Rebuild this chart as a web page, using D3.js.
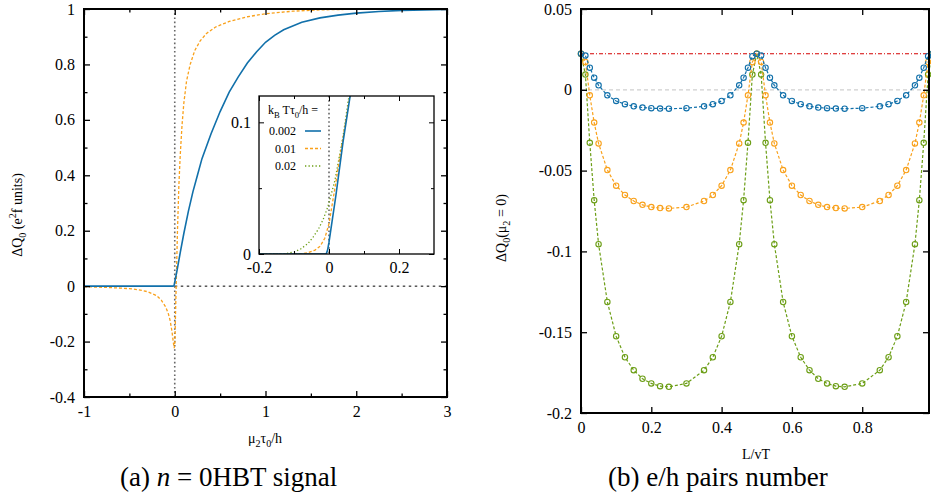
<!DOCTYPE html>
<html><head><meta charset="utf-8">
<script src="https://cdn.jsdelivr.net/npm/d3@7"></script>
<style>body{margin:0;background:#fff}svg{display:block}</style>
</head><body><svg id="c" width="931" height="502"></svg>
<script>
// ---------------- DATA ----------------
// (a) main panel: [mu2*tau0/h, DeltaQ0]
const mainBlue = [[-1,0],[-0.5,0],[-0.02,0],[-0.008,0.002],[0,0.014],[0.03,0.065],[0.06,0.12],[0.1,0.19],[0.15,0.27],[0.2,0.34],[0.25,0.4],[0.3,0.46],[0.4,0.55],[0.5,0.63],[0.6,0.7],[0.7,0.755],[0.8,0.805],[0.9,0.845],[1.0,0.88],[1.1,0.905],[1.2,0.925],[1.4,0.952],[1.6,0.968],[1.8,0.978],[2.0,0.985],[2.25,0.991],[2.5,0.995],[2.75,0.997],[3,0.998]];
const mainOrange = [[-1,-0.002],[-0.8,-0.004],[-0.6,-0.007],[-0.5,-0.009],[-0.4,-0.013],[-0.3,-0.02],[-0.2,-0.034],[-0.15,-0.05],[-0.1,-0.075],[-0.07,-0.1],[-0.05,-0.125],[-0.03,-0.165],[-0.015,-0.205],[-0.006,-0.224],[0.002,-0.2],[0.01,-0.08],[0.02,0.06],[0.03,0.2],[0.045,0.36],[0.06,0.47],[0.08,0.58],[0.1,0.66],[0.13,0.74],[0.17,0.8],[0.22,0.85],[0.28,0.885],[0.35,0.912],[0.45,0.935],[0.6,0.955],[0.8,0.972],[1.0,0.983],[1.3,0.992],[1.6,0.997],[2.0,0.999],[3,1]];
// (a) inset
const insetBlue = [[-0.2,0],[-0.008,0],[-0.004,0.003],[0,0.009],[0.02,0.045],[0.04,0.085],[0.065,0.128]];
const insetOrange = [[-0.2,0],[-0.08,0],[-0.06,0.001],[-0.04,0.003],[-0.025,0.006],[-0.012,0.012],[0,0.023],[0.01,0.039],[0.02,0.055],[0.03,0.072],[0.04,0.088],[0.05,0.104],[0.065,0.128]];
const insetGreen = [[-0.2,0],[-0.14,0],[-0.12,0.0005],[-0.1,0.0015],[-0.08,0.004],[-0.06,0.008],[-0.045,0.013],[-0.03,0.019],[-0.017,0.026],[-0.003,0.036],[0.017,0.056],[0.04,0.089],[0.057,0.12],[0.062,0.127]];
const legendLabels = ["0.002","0.01","0.02"];

// (b) e/h pairs number
const pairX = [0,0.0125,0.025,0.0375,0.05,0.075,0.1,0.125,0.15,0.175,0.2,0.225,0.25,0.3,0.35,0.375,0.4,0.425,0.45,0.4625,0.475,0.4875,
               0.5,0.5125,0.525,0.5375,0.55,0.575,0.6,0.625,0.65,0.675,0.7,0.725,0.75,0.8,0.85,0.875,0.9,0.925,0.95,0.9625,0.975,0.9875,1.0];
const pairBlue = [0.0223,0.0212,0.0137,0.0075,0.0028,-0.0034,-0.0069,-0.0089,-0.0102,-0.0110,-0.0114,-0.0116,-0.0117,-0.0114,-0.0102,-0.0089,-0.0069,-0.0034,0.0028,0.0075,0.0137,0.0208,
                  0.0223,0.0212,0.0137,0.0075,0.0028,-0.0034,-0.0069,-0.0089,-0.0102,-0.0110,-0.0114,-0.0116,-0.0117,-0.0114,-0.0102,-0.0089,-0.0069,-0.0034,0.0028,0.0075,0.0137,0.0208,0.0223];
const pairOrange = [0.0223,0.0172,-0.0034,-0.0203,-0.0332,-0.0497,-0.0593,-0.0651,-0.0688,-0.0712,-0.0726,-0.0732,-0.0734,-0.0726,-0.0688,-0.0651,-0.0593,-0.0497,-0.0332,-0.0203,-0.0034,0.0172,
                    0.0223,0.0172,-0.0034,-0.0203,-0.0332,-0.0497,-0.0593,-0.0651,-0.0688,-0.0712,-0.0726,-0.0732,-0.0734,-0.0726,-0.0688,-0.0651,-0.0593,-0.0497,-0.0332,-0.0203,-0.0034,0.0172,0.0223];
const pairGreen = [0.0223,0.0094,-0.0328,-0.0683,-0.0955,-0.1313,-0.1525,-0.1655,-0.1735,-0.1788,-0.1817,-0.1834,-0.1838,-0.1817,-0.1735,-0.1655,-0.1525,-0.1313,-0.0955,-0.0683,-0.0328,0.0094,
                   0.0223,0.0094,-0.0328,-0.0683,-0.0955,-0.1313,-0.1525,-0.1655,-0.1735,-0.1788,-0.1817,-0.1834,-0.1838,-0.1817,-0.1735,-0.1655,-0.1525,-0.1313,-0.0955,-0.0683,-0.0328,0.0094,0.0223];
const refLevel = 0.0223;

// ticks
const aXMajor=[-1,0,1,2,3], aXMinor=[-0.5,0.5,1.5,2.5];
const aYMajor=[-0.4,-0.2,0,0.2,0.4,0.6,0.8,1], aYMinor=[-0.3,-0.1,0.1,0.3,0.5,0.7,0.9];
const iXMajor=[-0.2,0,0.2], iXMinor=[-0.1,0.1];
const iYMajor=[0,0.1], iYMinor=[0.05];
const bXMajor=[0,0.2,0.4,0.6,0.8], bYMajor=[-0.2,-0.15,-0.1,-0.05,0,0.05];

// ---------------- STYLE ----------------
const C = {blue:"#1170aa", orange:"#f9a11b", green:"#6c9e16", red:"#d40000"};
const SERIF = "'Liberation Serif','Times New Roman',serif";
const svg = d3.select("#c");

function frame(g, x, y, o){
  const [x0,x1]=x.range(), [y0,y1]=y.range();
  const mk=(fn,scale,vals,size,fmt,tr)=>{
    const a=fn(scale).tickValues(vals).tickSize(size).tickPadding(o.pad).tickFormat(fmt);
    const gg=g.append("g").attr("transform",tr).call(a);
    gg.select(".domain").remove();
    gg.attr("font-family",SERIF).attr("font-size",o.fs);
    gg.selectAll("line").attr("stroke","#000").attr("stroke-width",o.tw);
    gg.selectAll("text").attr("fill","#000");
    return gg;
  };
  mk(d3.axisBottom,x,o.xMajor,-o.major,d=>String(d),`translate(0,${y0})`);
  mk(d3.axisTop,x,o.xMajor,-o.major,()=>"",`translate(0,${y1})`);
  mk(d3.axisLeft,y,o.yMajor,-o.major,d=>String(d),`translate(${x0},0)`);
  mk(d3.axisRight,y,o.yMajor,-o.major,()=>"",`translate(${x1},0)`);
  if(o.xMinor){mk(d3.axisBottom,x,o.xMinor,-o.minor,()=>"",`translate(0,${y0})`);
               mk(d3.axisTop,x,o.xMinor,-o.minor,()=>"",`translate(0,${y1})`);}
  if(o.yMinor){mk(d3.axisLeft,y,o.yMinor,-o.minor,()=>"",`translate(${x0},0)`);
               mk(d3.axisRight,y,o.yMinor,-o.minor,()=>"",`translate(${x1},0)`);}
  g.append("rect").attr("x",x0).attr("y",y1).attr("width",x1-x0).attr("height",y0-y1)
    .attr("fill","none").attr("stroke","#000").attr("stroke-width",o.fw);
}
function rich(t, parts, fs){
  let shift=0;
  parts.forEach(([s,m])=>{
    const target = m===1? 0.3*fs : m===2? -0.4*fs : 0;
    t.append("tspan").attr("dy",target-shift).attr("font-size",m? fs*0.72 : fs).text(s);
    shift=target;
  });
}

// ---------------- PANEL (a) ----------------
const ga = svg.append("g");
const xa = d3.scaleLinear().domain([-1,3]).range([84,447]);
const ya = d3.scaleLinear().domain([-0.4,1]).range([397,9]);
ga.append("line").attr("x1",xa(0)).attr("x2",xa(0)).attr("y1",ya(1)).attr("y2",ya(-0.4))
  .attr("stroke","#666").attr("stroke-width",1.6).attr("stroke-dasharray","1.6,2.6");
ga.append("line").attr("x1",xa(0)).attr("x2",xa(3)).attr("y1",ya(0)).attr("y2",ya(0))
  .attr("stroke","#000").attr("stroke-width",1).attr("stroke-dasharray","2.5,3.5");
const la = d3.line().x(d=>xa(d[0])).y(d=>ya(d[1]));
ga.append("path").attr("d",la(mainOrange)).attr("fill","none").attr("stroke",C.orange).attr("stroke-width",1.3).attr("stroke-dasharray","3,2");
ga.append("path").attr("d",la(mainBlue)).attr("fill","none").attr("stroke",C.blue).attr("stroke-width",1.6);
frame(ga,xa,ya,{xMajor:aXMajor,xMinor:aXMinor,yMajor:aYMajor,yMinor:aYMinor,major:6,minor:3.5,pad:9,fs:16,tw:1.3,fw:2});

const yla = ga.append("text").attr("transform","translate(22,215) rotate(-90)").attr("text-anchor","middle")
  .attr("font-family",SERIF).attr("font-size",14);
rich(yla,[["ΔQ",0],["0",1],[" (e",0],["2",2],["f units)",0]],14);
const xla = ga.append("text").attr("x",265).attr("y",443).attr("text-anchor","middle").attr("font-family",SERIF).attr("font-size",14);
rich(xla,[["μ",0],["2",1],["τ",0],["0",1],["/h",0]],14);

// inset
const gi = svg.append("g");
const xi = d3.scaleLinear().domain([-0.2,0.3]).range([259,434]);
const yi = d3.scaleLinear().domain([0,0.12]).range([254,96]);
gi.append("rect").attr("x",259).attr("y",96).attr("width",175).attr("height",158).attr("fill","#fff");
svg.append("clipPath").attr("id","clipI").append("rect").attr("x",259).attr("y",96).attr("width",175).attr("height",158);
const gic = gi.append("g").attr("clip-path","url(#clipI)");
gic.append("line").attr("x1",xi(0)).attr("x2",xi(0)).attr("y1",yi(0.12)).attr("y2",yi(0))
  .attr("stroke","#666").attr("stroke-width",1.6).attr("stroke-dasharray","1.6,2.6");
const li = d3.line().x(d=>xi(d[0])).y(d=>yi(d[1]));
gic.append("path").attr("d",li(insetGreen)).attr("fill","none").attr("stroke",C.green).attr("stroke-width",1.3).attr("stroke-dasharray","1.3,2.2");
gic.append("path").attr("d",li(insetOrange)).attr("fill","none").attr("stroke",C.orange).attr("stroke-width",1.3).attr("stroke-dasharray","3,2");
gic.append("path").attr("d",li(insetBlue)).attr("fill","none").attr("stroke",C.blue).attr("stroke-width",1.6);
frame(gi,xi,yi,{xMajor:iXMajor,xMinor:iXMinor,yMajor:iYMajor,yMinor:iYMinor,major:5,minor:3,pad:8,fs:16,tw:1,fw:1.3});
const lt = gi.append("text").attr("x",268).attr("y",114).attr("font-family",SERIF).attr("font-size",12);
rich(lt,[["k",0],["B",1],[" Tτ",0],["0",1],["/h =",0]],12);
const legStyles=[{c:C.blue,d:null,w:1.6},{c:C.orange,d:"3,2",w:1.3},{c:C.green,d:"1.3,2.2",w:1.3}];
legendLabels.forEach((s,i)=>{
  const yy = 131 + i*17.5;
  gi.append("text").attr("x",296).attr("y",yy+4).attr("text-anchor","end").attr("font-family",SERIF).attr("font-size",12).text(s);
  gi.append("line").attr("x1",305).attr("x2",321).attr("y1",yy).attr("y2",yy).attr("stroke",legStyles[i].c)
    .attr("stroke-width",legStyles[i].w).attr("stroke-dasharray",legStyles[i].d);
});

const ca = svg.append("text").attr("x",120).attr("y",486).attr("font-family",SERIF).attr("font-size",27);
ca.append("tspan").text("(a)  ");
ca.append("tspan").attr("font-style","italic").text("n");
ca.append("tspan").text(" = 0HBT signal");

// ---------------- PANEL (b) ----------------
const gb = svg.append("g");
const xb = d3.scaleLinear().domain([0,0.99]).range([581,929]);
const yb = d3.scaleLinear().domain([-0.2,0.05]).range([413,9]);
gb.append("line").attr("x1",xb(0)).attr("x2",xb(0.99)).attr("y1",yb(0)).attr("y2",yb(0))
  .attr("stroke","#cfcfcf").attr("stroke-width",1.2).attr("stroke-dasharray","4,3");
gb.append("line").attr("x1",xb(0)).attr("x2",xb(0.99)).attr("y1",yb(refLevel)).attr("y2",yb(refLevel))
  .attr("stroke",C.red).attr("stroke-width",1).attr("stroke-dasharray","4,2,1,2");
const series=[{v:pairGreen,c:C.green},{v:pairOrange,c:C.orange},{v:pairBlue,c:C.blue}];
series.forEach(s=>{
  const pts = pairX.map((x,i)=>[x,s.v[i]]);
  gb.append("path").attr("d",d3.line().x(d=>xb(d[0])).y(d=>yb(d[1]))(pts)).attr("fill","none")
    .attr("stroke",s.c).attr("stroke-width",1.2).attr("stroke-dasharray","3,2");
  gb.append("g").selectAll("circle").data(pts).join("circle").attr("cx",d=>xb(d[0])).attr("cy",d=>yb(d[1]))
    .attr("r",2.7).attr("fill","none").attr("stroke",s.c).attr("stroke-width",1.1);
});
frame(gb,xb,yb,{xMajor:bXMajor,yMajor:bYMajor,major:6,pad:9,fs:16,tw:1.3,fw:2});
const ylb = gb.append("text").attr("transform","translate(506,228) rotate(-90)").attr("text-anchor","middle")
  .attr("font-family",SERIF).attr("font-size",14);
rich(ylb,[["ΔQ",0],["0",1],["(μ",0],["2",1],[" = 0)",0]],14);
gb.append("text").attr("x",756).attr("y",459).attr("text-anchor","middle").attr("font-family",SERIF).attr("font-size",14).text("L/vT");
const cb = svg.append("text").attr("x",608).attr("y",486).attr("font-family",SERIF).attr("font-size",27);
cb.append("tspan").text("(b)  e/h pairs number");
</script></body></html>
